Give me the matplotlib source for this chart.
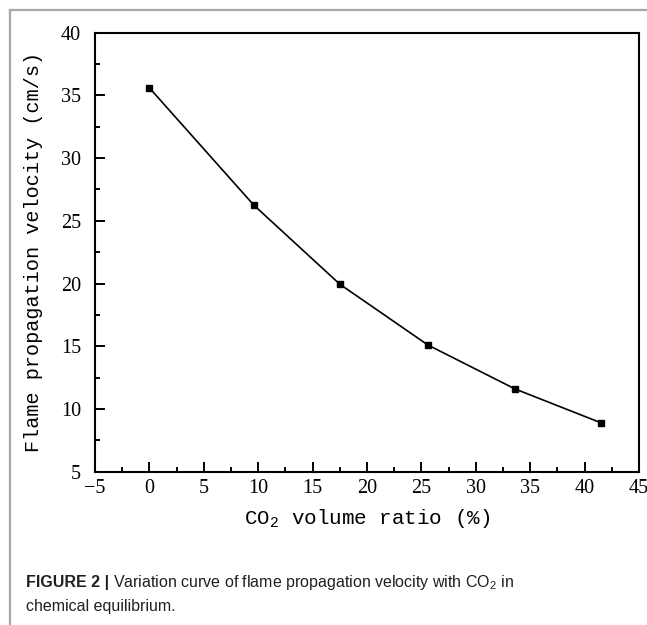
import matplotlib
matplotlib.use('Agg')
import matplotlib.pyplot as plt
from matplotlib.lines import Line2D
from matplotlib.ticker import MultipleLocator

# CO2 volume ratio (%) vs flame propagation velocity (cm/s)
co2_ratio = [0, 9.6, 17.5, 25.6, 33.6, 41.5]
velocity = [35.6, 26.25, 19.95, 15.1, 11.6, 8.9]

x_ticks = [-5, 0, 5, 10, 15, 20, 25, 30, 35, 40, 45]
y_ticks = [5, 10, 15, 20, 25, 30, 35, 40]

W, H = 647, 625
fig = plt.figure(figsize=(W / 100, H / 100), dpi=100)

# light gray frame around the figure panel
fig.add_artist(Line2D([10 / W, 1], [1 - 10 / H] * 2, color='#a8a8a8', lw=1.6))
fig.add_artist(Line2D([10 / W] * 2, [0, 1 - 10 / H], color='#a8a8a8', lw=1.6))

ax = fig.add_axes([95 / W, 1 - 471.7 / H, (639 - 95) / W, (471.7 - 32.7) / H])
ax.plot(co2_ratio, velocity, color='black', lw=1.2, marker='s', ms=4.5,
        mfc='black', mec='black')

ax.set_xlim(-5, 45)
ax.set_ylim(5, 40)
ax.set_xticks(x_ticks)
ax.set_yticks(y_ticks)
ax.xaxis.set_minor_locator(MultipleLocator(2.5))
ax.yaxis.set_minor_locator(MultipleLocator(2.5))
ax.tick_params(which='both', direction='in', top=False, right=False, width=1.4)
ax.tick_params(which='major', length=7)
ax.tick_params(axis='y', which='major', pad=10)
ax.tick_params(axis='x', which='major', pad=5)
ax.tick_params(which='minor', length=3.5)
for lbl in ax.get_xticklabels() + ax.get_yticklabels():
    lbl.set_fontfamily('Liberation Serif')
    lbl.set_fontsize(14.5)
for s in ax.spines.values():
    s.set_linewidth(1.5)

plt.rcParams['mathtext.fontset'] = 'custom'
plt.rcParams['mathtext.rm'] = 'Liberation Mono'
ax.set_xlabel(r'CO$_\mathregular{2}$ volume ratio (%)', family='Liberation Mono',
              fontsize=15, labelpad=7)
ax.set_ylabel('Flame propagation velocity (cm/s)', family='Liberation Mono',
              fontsize=14.5, labelpad=13)

# caption
cap_col = '#231f20'
t1 = fig.text(26 / W, 1 - 582 / H, 'FIGURE 2 |', family='Liberation Sans',
              weight='bold', fontsize=11.5, color=cap_col, va='center')
fig.canvas.draw()
bb = t1.get_window_extent()
fig.text(bb.x1 / W + 4 / W, 1 - 582 / H,
         r'Variation curve of flame propagation velocity with CO$_\mathregular{2}$ in',
         family='Liberation Sans', fontsize=11.5, color=cap_col, va='center',
         math_fontfamily='dejavusans')
fig.text(26 / W, 1 - 607 / H, 'chemical equilibrium.', family='Liberation Sans',
         fontsize=11.5, color=cap_col, va='center')

fig.savefig('out.png', dpi=100)
